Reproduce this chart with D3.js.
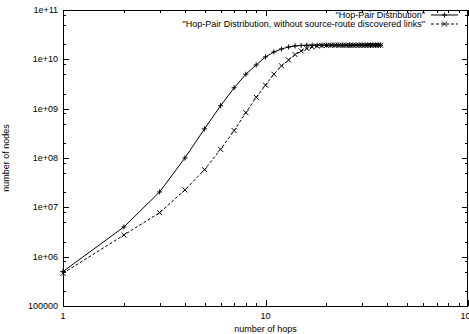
<!DOCTYPE html>
<html><head><meta charset="utf-8">
<script src="https://cdn.jsdelivr.net/npm/d3@7"></script>
<style>
html,body{margin:0;padding:0;background:#fff;}
text{font-family:"Liberation Sans",Arial,sans-serif;font-size:9px;fill:#000;}
</style></head>
<body>
<svg id="c" width="469" height="334"></svg>
<script>
const hops = d3.range(1, 38);
const hopPair = [5.0e5,4.0e6,2.05e7,1.0e8,3.9e8,1.15e9,2.65e9,5.0e9,7.7e9,1.12e10,
  1.41e10,1.62e10,1.78e10,1.87e10,1.91e10,1.93e10,1.94e10,1.94e10,1.94e10,1.94e10,
  1.94e10,1.94e10,1.94e10,1.94e10,1.94e10,1.94e10,1.94e10,1.94e10,1.94e10,1.94e10,
  1.94e10,1.94e10,1.94e10,1.94e10,1.94e10,1.94e10,1.94e10];
const hopPairNoSR = [4.6e5,2.75e6,7.8e6,2.25e7,5.8e7,1.5e8,3.6e8,8.3e8,1.7e9,3.0e9,
  5.0e9,7.4e9,9.7e9,1.25e10,1.48e10,1.66e10,1.78e10,1.86e10,1.9e10,1.92e10,
  1.93e10,1.93e10,1.93e10,1.93e10,1.93e10,1.93e10,1.93e10,1.93e10,1.93e10,1.93e10,
  1.93e10,1.93e10,1.93e10,1.93e10,1.93e10,1.93e10,1.93e10];
const seriesNames = ['"Hop-Pair Distribution"', '"Hop-Pair Distribution, without source-route discovered links"'];
const xTickValues = [1, 10, 100];
const xTickLabels = ["1", "10", "100"];
const yTickValues = [1e5, 1e6, 1e7, 1e8, 1e9, 1e10, 1e11];
const yTickLabels = ["100000", "1e+06", "1e+07", "1e+08", "1e+09", "1e+10", "1e+11"];
const xTitle = "number of hops";
const yTitle = "number of nodes";

const L = 63, R = 468, T = 10, B = 306;
const svg = d3.select("#c");
const x = d3.scaleLog().domain([1, 100]).range([L, R]);
const y = d3.scaleLog().domain([1e5, 1e11]).range([B, T]);

// minor ticks
const xMinor = [];
[1, 10].forEach(d => { for (let k = 2; k <= 9; k++) xMinor.push(d * k); });
const yMinor = [];
[1e5,1e6,1e7,1e8,1e9,1e10].forEach(d => { [2,5,8].forEach(k => yMinor.push(d * k)); });

const g = svg.append("g").attr("stroke", "#000").attr("stroke-width", 1).attr("shape-rendering", "crispEdges");
function hx(v){ return Math.round(x(v)) + 0.5; }
function hy(v){ return Math.round(y(v)) + 0.5; }
xTickValues.forEach(v => {
  g.append("line").attr("x1", hx(v)).attr("x2", hx(v)).attr("y1", B).attr("y2", B - 6);
  g.append("line").attr("x1", hx(v)).attr("x2", hx(v)).attr("y1", T).attr("y2", T + 6);
});
xMinor.forEach(v => {
  g.append("line").attr("x1", hx(v)).attr("x2", hx(v)).attr("y1", B).attr("y2", B - 3);
  g.append("line").attr("x1", hx(v)).attr("x2", hx(v)).attr("y1", T).attr("y2", T + 3);
});
yTickValues.forEach(v => {
  g.append("line").attr("x1", L).attr("x2", L + 6).attr("y1", hy(v)).attr("y2", hy(v));
  g.append("line").attr("x1", R).attr("x2", R - 6).attr("y1", hy(v)).attr("y2", hy(v));
});
yMinor.forEach(v => {
  g.append("line").attr("x1", L).attr("x2", L + 3).attr("y1", hy(v)).attr("y2", hy(v));
  g.append("line").attr("x1", R).attr("x2", R - 3).attr("y1", hy(v)).attr("y2", hy(v));
});
g.append("rect").attr("x", L + 0.5).attr("y", T + 0.5).attr("width", R - L - 1).attr("height", B - T)
  .attr("fill", "none");

// tick labels
xTickValues.forEach((v, i) => {
  svg.append("text").attr("x", x(v)).attr("y", B + 13).attr("text-anchor", "middle").text(xTickLabels[i]);
});
yTickValues.forEach((v, i) => {
  svg.append("text").attr("x", L - 5).attr("y", y(v) + 3).attr("text-anchor", "end").text(yTickLabels[i]);
});
svg.append("text").attr("x", (L + R) / 2 + 0).attr("y", 332).attr("text-anchor", "middle").text(xTitle);
svg.append("text").attr("transform", `translate(9,${(T + B) / 2}) rotate(-90)`).attr("text-anchor", "middle").text(yTitle);

// series
const line = d3.line().x(d => x(d[0])).y(d => y(d[1]));
const s1 = hops.map((h, i) => [h, hopPair[i]]);
const s2 = hops.map((h, i) => [h, hopPairNoSR[i]]);
svg.append("path").datum(s1).attr("d", line).attr("fill", "none").attr("stroke", "#000").attr("stroke-width", 1);
svg.append("path").datum(s2).attr("d", line).attr("fill", "none").attr("stroke", "#000").attr("stroke-width", 1).attr("stroke-dasharray", "3,2");
const m = 2.5;
function plus(sel, cx, cy){
  sel.append("path").attr("d", `M${cx-m},${cy}H${cx+m}M${cx},${cy-m}V${cy+m}`).attr("stroke", "#000").attr("stroke-width", 1).attr("fill", "none");
}
function cross(sel, cx, cy){
  sel.append("path").attr("d", `M${cx-m},${cy-m}L${cx+m},${cy+m}M${cx-m},${cy+m}L${cx+m},${cy-m}`).attr("stroke", "#000").attr("stroke-width", 1).attr("fill", "none");
}
s1.forEach(d => plus(svg, x(d[0]), y(d[1])));
s2.forEach(d => cross(svg, x(d[0]), y(d[1])));

// legend
const lgX = 425, l1 = 431, l2 = 458;
const rows = [15, 24];
svg.append("text").attr("x", lgX).attr("y", rows[0] + 3).attr("text-anchor", "end").text(seriesNames[0]);
svg.append("text").attr("x", lgX).attr("y", rows[1] + 3).attr("text-anchor", "end").text(seriesNames[1]);
svg.append("line").attr("x1", l1).attr("x2", l2).attr("y1", rows[0]).attr("y2", rows[0]).attr("stroke", "#000");
svg.append("line").attr("x1", l1).attr("x2", l2).attr("y1", rows[1]).attr("y2", rows[1]).attr("stroke", "#000").attr("stroke-dasharray", "3,2");
plus(svg, (l1 + l2) / 2, rows[0]);
cross(svg, (l1 + l2) / 2, rows[1]);
</script>
</body></html>
